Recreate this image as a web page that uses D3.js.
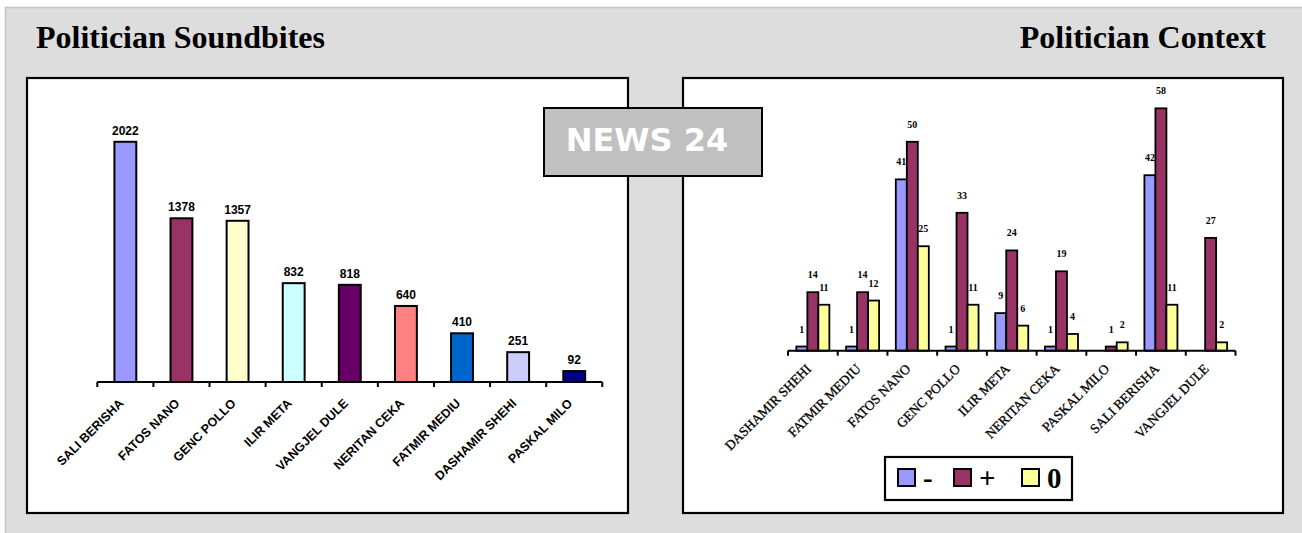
<!DOCTYPE html>
<html>
<head>
<meta charset="utf-8">
<script src="https://cdn.jsdelivr.net/npm/d3@7"></script>
<style>
  html, body { margin: 0; padding: 0; background: #ffffff; }
  svg { display: block; }
</style>
</head>
<body>
<svg id="chart" width="1302" height="533"></svg>
<script>
// Soundbite counts per politician
const soundbiteNames = ["SALI BERISHA", "FATOS NANO", "GENC POLLO", "ILIR META", "VANGJEL DULE",
  "NERITAN CEKA", "FATMIR MEDIU", "DASHAMIR SHEHI", "PASKAL MILO"];
const soundbiteCounts = [2022, 1378, 1357, 832, 818, 640, 410, 251, 92];
const soundbiteColors = ["#9999ff", "#993366", "#ffffcc", "#ccffff", "#660066",
  "#ff8080", "#0066cc", "#ccccff", "#000080"];

// Context tone per politician: negative, positive, neutral
const contextNames = ["DASHAMIR SHEHI", "FATMIR MEDIU", "FATOS NANO", "GENC POLLO", "ILIR META",
  "NERITAN CEKA", "PASKAL MILO", "SALI BERISHA", "VANGJEL DULE"];
const contextNegative = [1, 1, 41, 1, 9, 1, 0, 42, 0];
const contextPositive = [14, 14, 50, 33, 24, 19, 1, 58, 27];
const contextNeutral = [11, 12, 25, 11, 6, 4, 2, 11, 2];
const toneKeys = ["-", "+", "0"];
const toneColors = ["#9999ff", "#993366", "#ffff99"];

const svg = d3.select("#chart");
const serif = "'Liberation Serif', 'Times New Roman', serif";
const sans = "'Liberation Sans', Arial, sans-serif";

// page backdrop
svg.append("rect").attr("x", 5.5).attr("y", 7.5).attr("width", 1300).attr("height", 530)
  .attr("fill", "#dddddd").attr("stroke", "#c4c4c4").attr("stroke-width", 1.5);

// panel titles
svg.append("text").attr("x", 36).attr("y", 48)
  .attr("font-family", serif).attr("font-weight", "bold").attr("font-size", 32)
  .attr("fill", "#000").text("Politician Soundbites");
svg.append("text").attr("x", 1266).attr("y", 48).attr("text-anchor", "end")
  .attr("font-family", serif).attr("font-weight", "bold").attr("font-size", 32)
  .attr("fill", "#000").text("Politician Context");

// chart frames
[[27, 78, 601, 435], [683, 78, 600, 435]].forEach(([x, y, w, h]) => {
  svg.append("rect").attr("x", x).attr("y", y).attr("width", w).attr("height", h)
    .attr("fill", "#ffffff").attr("stroke", "#000").attr("stroke-width", 2.2);
});

// ---------- Soundbites bar chart ----------
const leftBase = 382;
const xL = d3.scaleBand().domain(soundbiteNames).range([97.3, 602.3]).padding(0);
const yL = d3.scaleLinear().domain([0, 2500]).range([leftBase, leftBase - 297]);
const barWL = xL.bandwidth() * 0.39;

const gL = svg.append("g");
gL.selectAll("rect.bar").data(soundbiteNames).join("rect")
  .attr("class", "bar")
  .attr("x", (d) => xL(d) + xL.bandwidth() / 2 - barWL / 2)
  .attr("y", (d, i) => yL(soundbiteCounts[i]))
  .attr("width", barWL)
  .attr("height", (d, i) => leftBase - yL(soundbiteCounts[i]))
  .attr("fill", (d, i) => soundbiteColors[i])
  .attr("stroke", "#000").attr("stroke-width", 2);

gL.selectAll("text.val").data(soundbiteNames).join("text")
  .attr("class", "val")
  .attr("x", (d) => xL(d) + xL.bandwidth() / 2)
  .attr("y", (d, i) => yL(soundbiteCounts[i]) - 7)
  .attr("text-anchor", "middle")
  .attr("font-family", sans).attr("font-weight", "bold").attr("font-size", 12)
  .text((d, i) => soundbiteCounts[i]);

gL.append("line").attr("x1", xL.range()[0]).attr("x2", xL.range()[1])
  .attr("y1", leftBase).attr("y2", leftBase)
  .attr("stroke", "#000").attr("stroke-width", 2);
const leftEdges = soundbiteNames.map((d) => xL(d)).concat([xL.range()[1]]);
gL.selectAll("line.tk").data(leftEdges).join("line")
  .attr("class", "tk").attr("x1", (d) => d).attr("x2", (d) => d)
  .attr("y1", leftBase).attr("y2", leftBase + 5)
  .attr("stroke", "#000").attr("stroke-width", 2);

gL.selectAll("text.cat").data(soundbiteNames).join("text")
  .attr("class", "cat")
  .attr("transform", (d) => `translate(${xL(d) + xL.bandwidth() / 2 - 1},${leftBase + 22}) rotate(-45)`)
  .attr("text-anchor", "end")
  .attr("font-family", sans).attr("font-weight", "bold").attr("font-size", 12.5)
  .text((d) => d);

// ---------- Context grouped bar chart ----------
const rightBase = 350.7;
const xR = d3.scaleBand().domain(contextNames).range([788, 1235.5]).padding(0);
const xTone = d3.scaleBand().domain(toneKeys)
  .range([xR.bandwidth() * 0.168, xR.bandwidth() * 0.832]).padding(0);
const yR = d3.scaleLinear().domain([0, 70]).range([rightBase, rightBase - 292.5]);

const toneSeries = [contextNegative, contextPositive, contextNeutral];
const rows = [];
contextNames.forEach((name, i) => {
  toneKeys.forEach((k, j) => rows.push({ name, key: k, value: toneSeries[j][i], color: toneColors[j] }));
});

const gR = svg.append("g");
gR.selectAll("rect.bar").data(rows.filter((r) => r.value > 0)).join("rect")
  .attr("class", "bar")
  .attr("x", (r) => xR(r.name) + xTone(r.key))
  .attr("y", (r) => yR(r.value))
  .attr("width", xTone.bandwidth())
  .attr("height", (r) => rightBase - yR(r.value))
  .attr("fill", (r) => r.color)
  .attr("stroke", "#000").attr("stroke-width", 1.8);

gR.selectAll("text.val").data(rows.filter((r) => r.value > 0)).join("text")
  .attr("class", "val")
  .attr("x", (r) => xR(r.name) + xTone(r.key) + xTone.bandwidth() / 2)
  .attr("y", (r) => yR(r.value) - 14)
  .attr("text-anchor", "middle")
  .attr("font-family", serif).attr("font-weight", "bold").attr("font-size", 10)
  .text((r) => r.value);

gR.append("line").attr("x1", xR.range()[0]).attr("x2", xR.range()[1])
  .attr("y1", rightBase).attr("y2", rightBase)
  .attr("stroke", "#000").attr("stroke-width", 2);
const rightEdges = contextNames.map((d) => xR(d)).concat([xR.range()[1]]);
gR.selectAll("line.tk").data(rightEdges).join("line")
  .attr("class", "tk").attr("x1", (d) => d).attr("x2", (d) => d)
  .attr("y1", rightBase).attr("y2", rightBase + 5)
  .attr("stroke", "#000").attr("stroke-width", 2);

gR.selectAll("text.cat").data(contextNames).join("text")
  .attr("class", "cat")
  .attr("transform", (d) => `translate(${xR(d) + xR.bandwidth() / 2 - 1},${rightBase + 19}) rotate(-45)`)
  .attr("text-anchor", "end")
  .attr("font-family", serif).attr("font-size", 13.5).attr("fill", "#000")
  .attr("stroke", "#000").attr("stroke-width", 0.3)
  .text((d) => d);

// legend
const lg = svg.append("g");
lg.append("rect").attr("x", 885).attr("y", 457).attr("width", 187).attr("height", 43)
  .attr("fill", "#fff").attr("stroke", "#000").attr("stroke-width", 2.2);
const legendX = [898, 954, 1022];
toneKeys.forEach((k, j) => {
  lg.append("rect").attr("x", legendX[j]).attr("y", 469).attr("width", 17).attr("height", 17)
    .attr("fill", toneColors[j]).attr("stroke", "#000").attr("stroke-width", 2);
  lg.append("text").attr("x", legendX[j] + 25).attr("y", 488)
    .attr("font-family", serif).attr("font-weight", "bold").attr("font-size", 29)
    .text(k);
});

// channel badge
svg.append("rect").attr("x", 544).attr("y", 108).attr("width", 218).attr("height", 68)
  .attr("fill", "#c0c0c0").attr("stroke", "#000").attr("stroke-width", 2);
svg.append("text").attr("x", 647).attr("y", 151).attr("text-anchor", "middle")
  .attr("font-family", "'DejaVu Sans', Verdana, sans-serif").attr("font-weight", "bold")
  .attr("font-size", 32).attr("fill", "#ffffff").text("NEWS 24");
</script>
</body>
</html>
